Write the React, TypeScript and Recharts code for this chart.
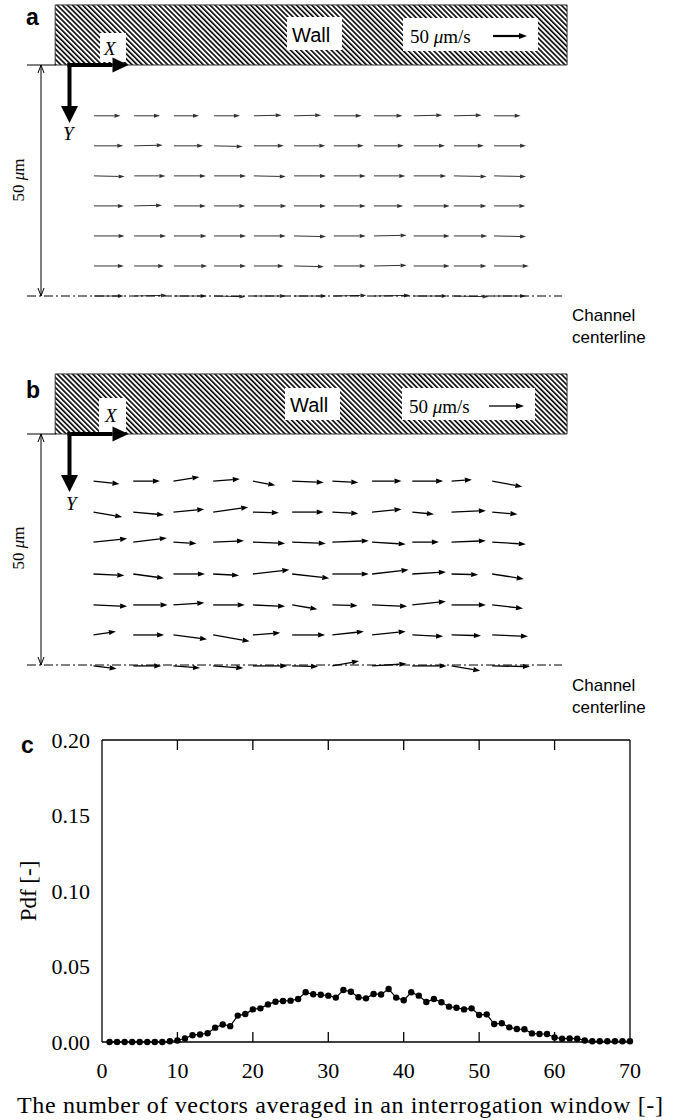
import React from 'react';
import { ScatterChart, Scatter, XAxis, YAxis, ReferenceArea, LineChart, Line, Label } from 'recharts';

const SERIF = '"Liberation Serif", "Times New Roman", serif';
const SANS = '"Liberation Sans", Arial, sans-serif';

// ---- panel a: vector grid (positions in µm, velocities in µm/s) ----
const colsA = [5.3, 14.0, 22.6, 31.3, 39.9, 48.6, 57.2, 65.9, 74.5, 83.2, 91.9];
const rowsA = [11.0, 17.5, 24.0, 30.5, 37.0, 43.5, 50.0];
const uA = [
  [39, 38, 37, 38, 41, 40, 41, 42, 42, 41, 39],
  [43, 42, 43, 42, 44, 46, 44, 44, 46, 44, 47],
  [45, 46, 47, 47, 47, 47, 47, 46, 48, 48, 47],
  [44, 41, 47, 46, 48, 47, 47, 43, 53, 48, 46],
  [45, 47, 48, 47, 47, 47, 47, 48, 53, 49, 47],
  [44, 44, 49, 47, 44, 44, 47, 48, 53, 48, 51],
  [44, 48, 48, 46, 47, 48, 48, 53, 50, 51, 47],
];
const vA = [
  [0, 0, 0, 0, -1, -1, 0, 0, -1, -1, 0],
  [0, -1, 0, 1, 0, 0, 0, 0, 0, 0, 0],
  [1, 0, 0, 0, 1, 0, 0, 0, 0, 1, 1],
  [0, -1, 0, 0, 0, 0, 0, 0, 0, 0, 0],
  [0, 0, 0, 0, 0, 1, 0, -1, 0, 0, 1],
  [0, 0, 0, 0, 0, 1, 0, -1, 0, 0, 0],
  [0, -1, 0, 1, 0, 0, -1, -1, 0, 1, 0],
];

// ---- panel b ----
const colsB = [5.2, 13.8, 22.5, 31.1, 39.7, 48.2, 56.9, 65.5, 74.2, 82.7, 91.5];
const rowsB = [10.2, 16.9, 23.4, 30.3, 37.0, 43.5, 50.2];
const uB = [
  [37, 38, 37, 38, 32, 45, 37, 42, 44, 29, 43],
  [41, 44, 44, 50, 37, 45, 37, 42, 31, 49, 36],
  [48, 48, 33, 44, 46, 48, 52, 48, 38, 49, 48],
  [44, 44, 45, 37, 52, 53, 52, 52, 48, 38, 45],
  [48, 49, 44, 45, 46, 36, 36, 50, 48, 49, 44],
  [32, 44, 48, 52, 39, 47, 45, 48, 44, 42, 51],
  [33, 40, 38, 43, 49, 37, 38, 49, 49, 41, 54],
];
const vB = [
  [4, 0, -6, -3, 6, 2, 2, 0, 0, -2, 8],
  [7, 4, -4, -7, 1, 0, 2, -4, 3, -2, 3],
  [-5, -6, 2, -2, 2, 2, -2, 3, 0, -2, 3],
  [2, 6, 0, 2, -6, 6, 0, -6, -3, 1, 7],
  [2, 0, -3, 0, 2, 6, 1, 2, -5, 0, 5],
  [-5, 0, 6, 9, -3, 0, -5, -5, 2, 1, 2],
  [4, 0, 3, 3, 0, 1, -7, -3, 0, 7, 1],
];

const refSpeed = 50; // µm/s legend arrow

// ---- panel c: pdf of number of vectors averaged ----
const nValues = [
  1, 2, 3, 4, 5, 6, 7, 8, 9, 10, 11, 12, 13, 14, 15, 16, 17, 18, 19, 20,
  21, 22, 23, 24, 25, 26, 27, 28, 29, 30, 31, 32, 33, 34, 35, 36, 37, 38, 39, 40,
  41, 42, 43, 44, 45, 46, 47, 48, 49, 50, 51, 52, 53, 54, 55, 56, 57, 58, 59, 60,
  61, 62, 63, 64, 65, 66, 67, 68, 69, 70,
];
const pdfValues = [
  0, 0, 0, 0, 0, 0, 0, 0, 0.0005, 0.001,
  0.0023, 0.0045, 0.005, 0.0058, 0.0095, 0.0116, 0.0105, 0.0175, 0.0185, 0.0216,
  0.0223, 0.0249, 0.0267, 0.0272, 0.0274, 0.0285, 0.0329, 0.0316, 0.0313, 0.0307,
  0.0294, 0.0344, 0.0333, 0.0296, 0.0289, 0.0318, 0.0315, 0.0351, 0.0294, 0.0276,
  0.0329, 0.0307, 0.0265, 0.0285, 0.0263, 0.0234, 0.0227, 0.0216, 0.0223, 0.0179,
  0.0183, 0.0119, 0.0124, 0.0097, 0.0086, 0.0084, 0.0057, 0.0053, 0.0053, 0.003,
  0.0022, 0.0024, 0.0022, 0.001, 0.0005, 0.0005, 0.0005, 0.0005, 0.0005, 0.0005,
];
const xTicks = [0, 10, 20, 30, 40, 50, 60, 70];
const xInnerTicks = [10, 20, 30, 40, 50, 60];
const yTicks = [0, 0.05, 0.1, 0.15, 0.2];
const yInnerTicks = [0.05, 0.1, 0.15];

const pdfData = nValues.map((n, i) => ({ n, pdf: pdfValues[i] }));

// panel geometry: px per µm, and where X=0,Y=0 sits in the panel
const PX = 4.62;
const OX = 69.5;
const OY = 65;
const X_DOM: [number, number] = [-14, 130];
const Y_DOM: [number, number] = [-14, 56];
const PW = 675;
const PH = 345;
const mLeft = OX + X_DOM[0] * PX;
const mTop = OY + Y_DOM[0] * PX;
const panelMargin = {
  left: mLeft,
  top: mTop,
  right: PW - mLeft - (X_DOM[1] - X_DOM[0]) * PX,
  bottom: PH - mTop - (Y_DOM[1] - Y_DOM[0]) * PX,
};
const CENTER_Y = OY + 50 * PX;

type Layout = {
  letter: string;
  letterBase: number;
  xBox: number[];
  wallBox: number[];
  refBox: number[];
  xTextX: number;
  xTextBase: number;
  wallBase: number;
  refTextBase: number;
  refArrowX: number;
  refArrowY: number;
  refLineW: number;
  yTextX: number;
  yBase: number;
  dimY: number;
  chBase: number;
};

const layoutA: Layout = {
  letter: 'a', letterBase: 25,
  xBox: [100, 33, 26, 29], wallBox: [287, 17, 55, 33], refBox: [403, 18, 135, 33],
  xTextX: 104, xTextBase: 55, wallBase: 42, refTextBase: 43,
  refArrowX: 493, refArrowY: 36, refLineW: 2.2,
  yTextX: 63, yBase: 140, dimY: 180, chBase: 321,
};
const layoutB: Layout = {
  letter: 'b', letterBase: 29,
  xBox: [99, 29, 27, 34], wallBox: [285, 19, 55, 32], refBox: [402, 19, 133, 32],
  xTextX: 105, xTextBase: 53, wallBase: 43, refTextBase: 44,
  refArrowX: 489, refArrowY: 37, refLineW: 1.3,
  yTextX: 66, yBase: 141, dimY: 179, chBase: 322,
};

function arrowPath(x1: number, y1: number, x2: number, y2: number, head: number, hw: number) {
  const len = Math.hypot(x2 - x1, y2 - y1) || 1;
  const ux = (x2 - x1) / len;
  const uy = (y2 - y1) / len;
  const bx = x2 - ux * head;
  const by = y2 - uy * head;
  return {
    bx,
    by,
    pts: `${x2},${y2} ${bx - uy * hw},${by + ux * hw} ${bx + uy * hw},${by - ux * hw}`,
  };
}

function VectorPanel({ top, cols, rows, u, v, k, color, sw, head, hw, L }: {
  top: number; cols: number[]; rows: number[]; u: number[][]; v: number[][];
  k: number; color: string; sw: number; head: number; hw: number; L: Layout;
}) {
  const points: { x: number; y: number; u: number; v: number }[] = [];
  rows.forEach((y, i) => cols.forEach((x, j) => points.push({ x, y, u: u[i][j], v: v[i][j] })));
  const hatchId = `hatch-${L.letter}`;

  const shape = (p: any) => {
    const { cx, cy, payload } = p;
    const x2 = cx + payload.u * k;
    const y2 = cy + payload.v * k;
    const a = arrowPath(cx, cy, x2, y2, head, hw);
    return (
      <g>
        <line x1={cx} y1={cy} x2={a.bx} y2={a.by} stroke={color} strokeWidth={sw} />
        <polygon points={a.pts} fill={color} />
      </g>
    );
  };

  const ref = arrowPath(L.refArrowX, L.refArrowY, L.refArrowX + refSpeed * k, L.refArrowY, 8, 3);
  const box = (b: number[]) => <rect x={b[0]} y={b[1]} width={b[2]} height={b[3]} fill="#fff" />;

  return (
    <div style={{ position: 'absolute', left: 0, top, width: PW, height: PH }}>
      <svg width={0} height={0} style={{ position: 'absolute' }}>
        <defs>
          <pattern id={hatchId} width={3.6} height={3.6} patternUnits="userSpaceOnUse" patternTransform="rotate(-45)">
            <rect x={0} y={0} width={1.6} height={3.6} fill="#000" />
          </pattern>
        </defs>
      </svg>
      <ScatterChart width={PW} height={PH} margin={panelMargin}>
        <XAxis type="number" dataKey="x" domain={X_DOM} hide />
        <YAxis type="number" dataKey="y" domain={Y_DOM} reversed hide />
        <ReferenceArea x1={-3.1} x2={107.7} y1={-13} y2={0} fill={`url(#${hatchId})`} fillOpacity={1} stroke="#333" strokeWidth={1} />
        <Scatter data={points} shape={shape} isAnimationActive={false} />
      </ScatterChart>
      <svg width={PW} height={PH} style={{ position: 'absolute', left: 0, top: 0, pointerEvents: 'none', overflow: 'visible' }}>
        {box(L.xBox)}
        {box(L.wallBox)}
        {box(L.refBox)}
        <text x={26} y={L.letterBase} fontFamily={SANS} fontWeight="bold" fontSize={23}>{L.letter}</text>
        <text x={L.xTextX} y={L.xTextBase} fontFamily={SERIF} fontStyle="italic" fontSize={19}>X</text>
        <text x={L.wallBox[0] + 5} y={L.wallBase} fontFamily={SANS} fontSize={20}>Wall</text>
        <text x={L.refBox[0] + 7} y={L.refTextBase} fontFamily={SERIF} fontSize={19}>
          50 <tspan fontStyle="italic">μ</tspan>m/s
        </text>
        <line x1={L.refArrowX} y1={L.refArrowY} x2={ref.bx} y2={ref.by} stroke="#000" strokeWidth={L.refLineW} />
        <polygon points={ref.pts} fill="#000" />
        {/* coordinate axes */}
        <line x1={27} y1={OY} x2={56} y2={OY} stroke="#000" strokeWidth={1} />
        <rect x={OX - 2} y={OY - 2} width={45} height={4} fill="#000" />
        <polygon points={`${OX + 43},${OY - 7.5} ${OX + 59},${OY} ${OX + 43},${OY + 7.5}`} fill="#000" />
        <rect x={OX - 2} y={OY - 2} width={4} height={44} fill="#000" />
        <polygon points={`${OX - 8.5},${OY + 41} ${OX},${OY + 58} ${OX + 8.5},${OY + 41}`} fill="#000" />
        <text x={L.yTextX} y={L.yBase} fontFamily={SERIF} fontStyle="italic" fontSize={19}>Y</text>
        {/* 50 µm dimension */}
        <line x1={41} y1={OY} x2={41} y2={CENTER_Y} stroke="#000" strokeWidth={1} />
        <polyline points={`38,${OY + 8} 41,${OY} 44,${OY + 8}`} fill="none" stroke="#000" strokeWidth={1} />
        <polyline points={`38,${CENTER_Y - 8} 41,${CENTER_Y} 44,${CENTER_Y - 8}`} fill="none" stroke="#000" strokeWidth={1} />
        <text transform={`translate(24, ${L.dimY}) rotate(-90)`} textAnchor="middle" fontFamily={SERIF} fontSize={17}>
          50 <tspan fontStyle="italic">μ</tspan>m
        </text>
        {/* centerline */}
        <line x1={27} y1={CENTER_Y} x2={562} y2={CENTER_Y} stroke="#000" strokeWidth={1} strokeDasharray="9 3 2 3" />
        <text x={572} y={L.chBase} fontFamily={SANS} fontSize={17}>Channel</text>
        <text x={572} y={L.chBase + 22} fontFamily={SANS} fontSize={17}>centerline</text>
      </svg>
    </div>
  );
}

const noLabel = () => <g />;

function PdfPanel() {
  const tickStyle = { fontFamily: SERIF, fontSize: 22, fill: '#000' };
  const frame = { stroke: '#000', strokeWidth: 1.3 };
  return (
    <div style={{ position: 'absolute', left: 0, top: 720, width: 675, height: 400 }}>
      <LineChart width={675} height={400} data={pdfData} margin={{ top: 20, right: 45, left: 0, bottom: 0 }}>
        <XAxis xAxisId="main" dataKey="n" type="number" domain={[0, 70]} ticks={xTicks}
          tickLine={false} tickSize={0} tickMargin={20} height={78}
          axisLine={frame} tick={tickStyle}>
          <Label content={() => (
            <text x={340} y={393} textAnchor="middle" fontFamily={SERIF} fontSize={24} fill="#000"
              textLength={646} lengthAdjust="spacing">
              The number of vectors averaged in an interrogation window [-]
            </text>
          )} />
        </XAxis>
        <XAxis xAxisId="top" orientation="top" mirror dataKey="n" type="number" domain={[0, 70]}
          ticks={xInnerTicks} tick={noLabel} tickSize={10} axisLine={frame} tickLine={frame} />
        <XAxis xAxisId="inner" orientation="bottom" mirror dataKey="n" type="number" domain={[0, 70]}
          ticks={xInnerTicks} tick={noLabel} tickSize={10} axisLine={false} tickLine={frame} />
        <YAxis yAxisId="main" type="number" domain={[0, 0.2]} ticks={yTicks} width={102}
          tickFormatter={(t: number) => t.toFixed(2)} tickLine={false} tickSize={0} tickMargin={12}
          axisLine={frame} tick={tickStyle}>
          <Label content={() => (
            <text transform="translate(36, 171) rotate(-90)" textAnchor="middle" fontFamily={SERIF} fontSize={23} fill="#000">
              Pdf [-]
            </text>
          )} />
        </YAxis>
        <YAxis yAxisId="innerL" orientation="left" mirror type="number" domain={[0, 0.2]}
          ticks={yInnerTicks} tick={noLabel} tickSize={12} axisLine={false} tickLine={frame} />
        <YAxis yAxisId="right" orientation="right" mirror type="number" domain={[0, 0.2]}
          ticks={yInnerTicks} tick={noLabel} tickSize={12} axisLine={frame} tickLine={frame} />
        <Line xAxisId="main" yAxisId="main" dataKey="pdf" stroke="#000" strokeWidth={1.2}
          dot={{ r: 3.2, fill: '#000', stroke: '#000', strokeWidth: 0 }} isAnimationActive={false} />
      </LineChart>
      <svg width={675} height={400} style={{ position: 'absolute', left: 0, top: 0, pointerEvents: 'none' }}>
        <text x={21} y={33} fontFamily={SANS} fontWeight="bold" fontSize={23}>c</text>
      </svg>
    </div>
  );
}

export default function App() {
  return (
    <div style={{ position: 'absolute', left: 0, top: 0, width: 675, height: 1120, background: '#fff' }}>
      <VectorPanel top={0} cols={colsA} rows={rowsA} u={uA} v={vA} k={0.68}
        color="#333" sw={1} head={6} hw={2} L={layoutA} />
      <VectorPanel top={369} cols={colsB} rows={rowsB} u={uB} v={vB} k={0.7}
        color="#000" sw={1.3} head={7} hw={2.6} L={layoutB} />
      <PdfPanel />
    </div>
  );
}
